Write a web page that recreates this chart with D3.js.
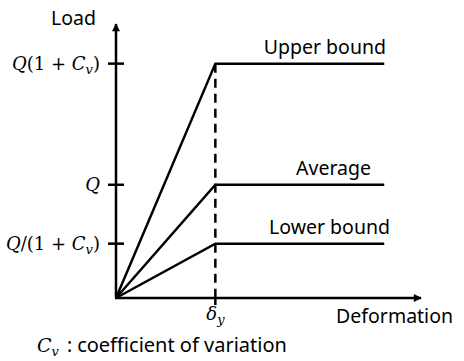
<!DOCTYPE html>
<html><head><meta charset="utf-8">
<script src="https://cdn.jsdelivr.net/npm/d3@7"></script>
<style>body{margin:0;background:#fff}svg{display:block}</style>
</head><body>
<script>
// Data
const seriesNames = ["Upper bound", "Average", "Lower bound"];
const yieldLoads = [2.07, 1.0, 0.48];      // load levels (Q = 1, Cv ≈ 1.07)
const yieldDeformation = 1.0;               // δy
const endDeformation = 2.7;                 // plateau end
const yTickValues = [2.07, 1.0, 0.48];
const yTickLabels = [["Q", "(1 + ", "C", "v", ")"], ["Q"], ["Q", "/(1 + ", "C", "v", ")"]];

const W = 464, H = 361;
const svg = d3.select("body").append("svg").attr("width", W).attr("height", H);

const x = d3.scaleLinear().domain([0, 3.07]).range([116, 421]);
const y = d3.scaleLinear().domain([0, 2.42]).range([298, 24]);

const MATH = "'DejaVu Serif', serif";
const SANS = "'Noto Sans', sans-serif";

svg.append("defs").append("marker").attr("id", "arr")
  .attr("viewBox", "0 0 10 10").attr("refX", 9).attr("refY", 5)
  .attr("markerWidth", 10).attr("markerHeight", 8).attr("markerUnits", "userSpaceOnUse")
  .attr("orient", "auto")
  .append("path").attr("d", "M0,0 L10,5 L0,10 Z").attr("fill", "#000");

// axes
svg.append("line").attr("x1", x(0)).attr("y1", y(0)).attr("x2", x(0)).attr("y2", y(2.42))
  .attr("stroke", "#000").attr("stroke-width", 2.5).attr("marker-end", "url(#arr)");
svg.append("line").attr("x1", x(0) - 1).attr("y1", y(0)).attr("x2", x(3.07)).attr("y2", y(0))
  .attr("stroke", "#000").attr("stroke-width", 2.5).attr("marker-end", "url(#arr)");

// y ticks
yTickValues.forEach((v, i) => {
  svg.append("line").attr("x1", x(0) - 8).attr("x2", x(0) + 8).attr("y1", y(v)).attr("y2", y(v))
    .attr("stroke", "#000").attr("stroke-width", 2.5);
  const t = svg.append("text").attr("x", x(0) - 16).attr("y", y(v) + 6)
    .attr("text-anchor", "end").attr("font-family", MATH).attr("font-size", 18);
  const parts = yTickLabels[i];
  t.append("tspan").attr("font-style", "italic").text(parts[0]);
  if (parts.length > 1) {
    t.append("tspan").text(parts[1]);
    t.append("tspan").attr("font-style", "italic").text(parts[2]);
    t.append("tspan").attr("font-style", "italic").attr("font-size", 13).attr("dy", 4).text(parts[3]);
    t.append("tspan").attr("dy", -4).text(parts[4]);
  }
});

// x tick at δy
svg.append("line").attr("x1", x(yieldDeformation)).attr("x2", x(yieldDeformation))
  .attr("y1", y(0)).attr("y2", y(0) + 7).attr("stroke", "#000").attr("stroke-width", 2.5);
const dt = svg.append("text").attr("x", x(yieldDeformation) - 9).attr("y", y(0) + 22)
  .attr("font-family", MATH).attr("font-style", "italic").attr("font-size", 18);
dt.append("tspan").text("δ");
dt.append("tspan").attr("font-size", 13).attr("dy", 4).text("y");

// dashed line
svg.append("line").attr("x1", x(yieldDeformation)).attr("x2", x(yieldDeformation))
  .attr("y1", y(d3.max(yieldLoads))).attr("y2", y(0))
  .attr("stroke", "#000").attr("stroke-width", 2.5).attr("stroke-dasharray", "9,6");

// curves
const line = d3.line().x(d => x(d[0])).y(d => y(d[1]));
yieldLoads.forEach((v) => {
  svg.append("path").attr("d", line([[0, 0], [yieldDeformation, v], [endDeformation, v]]))
    .attr("fill", "none").attr("stroke", "#000").attr("stroke-width", 2.5);
});

// series labels
const labelX = [386, 371, 390];
seriesNames.forEach((n, i) => {
  svg.append("text").attr("x", labelX[i]).attr("y", y(yieldLoads[i]) - 10)
    .attr("text-anchor", "end").attr("font-family", SANS).attr("font-size", 19.5).text(n);
});

// axis titles
svg.append("text").attr("x", 96).attr("y", 25).attr("text-anchor", "end")
  .attr("font-family", SANS).attr("font-size", 19.5).text("Load");
svg.append("text").attr("x", 453).attr("y", 323).attr("text-anchor", "end")
  .attr("font-family", SANS).attr("font-size", 19.5).text("Deformation");

// footnote
const fn = svg.append("text").attr("x", 37).attr("y", 352).attr("font-size", 19.5);
fn.append("tspan").attr("font-family", MATH).attr("font-style", "italic").attr("font-size", 19).text("C");
fn.append("tspan").attr("font-family", MATH).attr("font-style", "italic").attr("font-size", 13).attr("dy", 4).text("v");
fn.append("tspan").attr("font-family", SANS).attr("dy", -4).attr("dx", 8).text(":");
fn.append("tspan").attr("font-family", SANS).attr("dx", 5).attr("font-size", 20).text("coefficient of variation");
</script>
</body></html>
